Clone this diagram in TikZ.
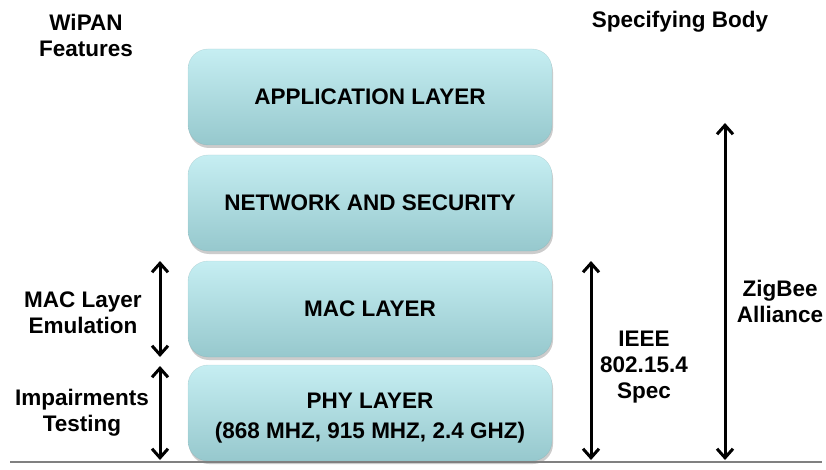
\documentclass[tikz,border=0pt]{standalone}
\usepackage{fontspec}
\setmainfont{Liberation Sans}
\usetikzlibrary{arrows.meta,shadows}
\definecolor{boxtop}{RGB}{198,238,242}
\definecolor{boxbot}{RGB}{150,200,205}
\tikzset{
  layer/.style={rounded corners=20pt, top color=boxtop, bottom color=boxbot,
    draw=boxbot!80!black, draw opacity=0.3,
    drop shadow={shadow xshift=1pt, shadow yshift=-3pt, opacity=0.4},
    minimum width=364pt, minimum height=96pt, align=center,
    font=\fontsize{22.5}{30}\selectfont\bfseries},
  lbl/.style={align=center, font=\fontsize{22.5}{26}\selectfont\bfseries, inner sep=0pt},
  span/.style={line width=3pt, {Straight Barb[length=9pt,width=16pt]}-{Straight Barb[length=9pt,width=16pt]}},
}
\begin{document}
\begin{tikzpicture}[x=1pt,y=-1pt]
\useasboundingbox (0,0) rectangle (826,470);
\fill[white] (0,0) rectangle (826,470);
% layers
\node[layer] (app) at (370,97) {APPLICATION LAYER};
\node[layer] (net) at (370,203) {NETWORK AND SECURITY};
\node[layer] (mac) at (370,309) {MAC LAYER};
\node[layer] (phy) at (370,413) {};
\node[align=center, font=\fontsize{22.5}{30}\selectfont\bfseries] (phytext) at (370,418) {PHY LAYER\\(868 MHZ, 915 MHZ, 2.4 GHZ)};
% baseline
\coordinate (bl) at (10,462);
\coordinate (br) at (822,462);
\draw[gray, line width=2pt] (bl) -- (br);
% headings
\node[lbl] (wipan) at (86,35) {WiPAN\\Features};
\node[lbl] (spec) at (680,22) {Specifying Body};
% left labels
\node[lbl] (macemu) at (83,313) {MAC Layer\\Emulation};
\node[lbl] (imp) at (82,413) {Impairments\\Testing};
% right labels
\node[lbl] (ieee) at (644,367) {IEEE\\802.15.4\\Spec};
\node[lbl] (zig) at (780,301) {ZigBee\\Alliance};
% arrows
\coordinate (m1) at (160,261);
\coordinate (m2) at (160,357);
\coordinate (p1) at (160,366);
\coordinate (p2) at (160,460);
\coordinate (i1) at (591,261);
\coordinate (i2) at (591,460);
\coordinate (z1) at (725,123);
\coordinate (z2) at (725,460);
\draw[span] (m1) -- (m2);
\draw[span] (p1) -- (p2);
\draw[span] (i1) -- (i2);
\draw[span] (z1) -- (z2);
\end{tikzpicture}
\end{document}
